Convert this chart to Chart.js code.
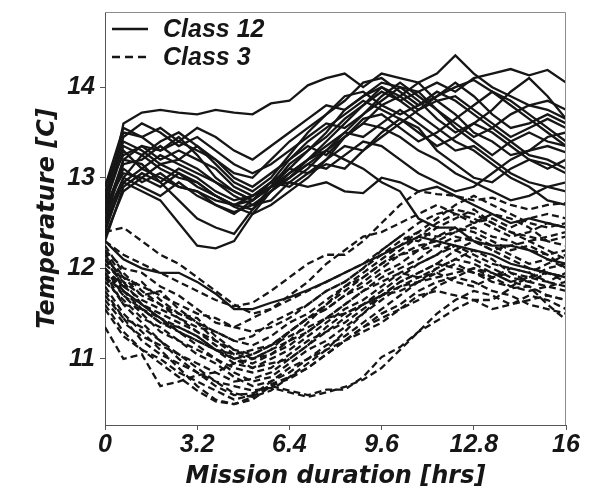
<!DOCTYPE html>
<html>
<head>
<meta charset="utf-8">
<script src="https://cdn.jsdelivr.net/npm/chart.js@4.4.1/dist/chart.umd.min.js"></script>
<style>
  html, body { margin: 0; padding: 0; background: #fff; }
  #wrap { width: 596px; height: 494px; }
</style>
</head>
<body>
<div id="wrap"><canvas id="chart" width="596" height="494"></canvas></div>
<script>
// sample times (hrs)
var hours = [0, 0.64, 1.28, 1.92, 2.56, 3.2, 3.84, 4.48, 5.12, 5.76, 6.4, 7.04, 7.68,
             8.32, 8.96, 9.6, 10.24, 10.88, 11.52, 12.16, 12.8, 13.44, 14.08, 14.72, 15.36, 16];
var xTicks = [0, 3.2, 6.4, 9.6, 12.8, 16];
var yTicks = [11, 12, 13, 14];
var legendNames = ["Class 12", "Class 3"];

// Class 12 runs (solid), temperature [C]
var class12Runs = [
  [12.6, 13.6, 13.72, 13.75, 13.72, 13.7, 13.75, 13.72, 13.7, 13.82, 13.85, 14.02, 14.1, 14.15, 14.0, 14.15, 14.1, 14.05, 14.15, 14.35, 14.15, 14.0, 13.9, 13.8, 13.85, 13.75],
  [12.8, 13.5, 13.45, 13.55, 13.4, 13.3, 13.2, 13.05, 13.0, 13.2, 13.4, 13.55, 13.7, 13.85, 14.05, 14.1, 13.95, 13.8, 13.9, 14.05, 13.9, 13.7, 13.55, 13.6, 13.7, 13.6],
  [12.5, 13.2, 13.35, 13.3, 13.45, 13.25, 13.0, 12.85, 12.75, 12.9, 13.15, 13.3, 13.5, 13.75, 13.9, 14.05, 14.0, 13.85, 13.65, 13.5, 13.6, 13.75, 13.95, 14.1, 13.9, 13.65],
  [12.9, 13.4, 13.3, 13.15, 13.2, 13.35, 13.2, 13.0, 12.9, 13.05, 13.2, 13.35, 13.25, 13.45, 13.6, 13.8, 13.9, 14.05, 13.85, 13.7, 13.5, 13.4, 13.25, 13.3, 13.45, 13.5],
  [12.4, 13.0, 13.25, 13.1, 13.0, 12.95, 12.8, 12.7, 12.65, 12.85, 13.05, 13.2, 13.35, 13.5, 13.45, 13.6, 13.75, 13.6, 13.45, 13.3, 13.35, 13.2, 13.05, 12.95, 12.9, 12.85],
  [12.7, 13.3, 13.1, 13.25, 13.15, 13.05, 12.95, 12.8, 12.7, 12.75, 12.95, 13.1, 13.3, 13.45, 13.65, 13.7, 13.55, 13.4, 13.5, 13.65, 13.8, 13.95, 13.85, 13.7, 13.55, 13.4],
  [12.6, 13.1, 12.95, 13.05, 12.9, 12.85, 12.7, 12.6, 12.75, 12.9, 13.0, 13.2, 13.4, 13.6, 13.8, 13.95, 13.85, 13.7, 13.55, 13.4, 13.3, 13.15, 13.0, 12.9, 12.75, 12.7],
  [12.85, 13.25, 13.35, 13.2, 13.3, 13.2, 13.1, 12.9, 12.8, 12.95, 13.1, 13.05, 13.2, 13.35, 13.3, 13.45, 13.6, 13.75, 13.9, 14.0, 14.08, 13.95, 13.8, 13.65, 13.5, 13.35],
  [12.3, 12.9, 13.05, 12.95, 13.1, 13.0, 12.85, 12.75, 12.8, 12.95, 12.9, 13.05, 13.15, 13.1, 13.3, 13.5, 13.65, 13.55, 13.3, 13.15, 13.0, 12.95, 13.1, 13.2, 13.15, 13.05],
  [12.75, 13.45, 13.6, 13.5, 13.35, 13.45, 13.3, 13.15, 13.05, 13.15, 13.3, 13.45, 13.6, 13.55, 13.7, 13.9, 14.05, 13.9, 13.75, 13.6, 13.45, 13.55, 13.7, 13.8, 13.75, 13.65],
  [12.55, 13.0, 12.9, 12.8, 12.95, 12.8, 12.7, 12.62, 12.7, 12.85, 13.0, 13.15, 13.1, 13.25, 13.4, 13.35, 13.2, 13.05, 12.95, 12.85, 12.9, 13.05, 13.2, 13.3, 13.35, 13.28],
  [12.65, 13.15, 13.2, 13.35, 13.2, 13.1, 12.95, 12.85, 12.75, 12.95, 13.2, 13.4, 13.55, 13.7, 13.85, 13.75, 13.65, 13.5, 13.35, 13.45, 13.6, 13.5, 13.35, 13.2, 13.1, 13.2],
  [12.45, 12.95, 13.1, 13.0, 12.9, 12.85, 12.75, 12.7, 12.8, 12.9, 12.95, 12.9, 12.95, 12.85, 12.83, 13.0, 12.95, 12.85, 12.9, 12.8, 12.7, 12.6, 12.5, 12.55, 12.5, 12.45],
  [12.5, 12.95, 12.85, 12.75, 12.5, 12.25, 12.22, 12.3, 12.6, 12.85, 13.0, 13.15, 13.3, 13.5, 13.7, 13.85, 14.0, 13.95, 13.75, 13.55, 13.4, 13.25, 13.4, 13.5, 13.4, 13.35],
  [12.6, 13.2, 13.15, 12.95, 12.75, 12.55, 12.45, 12.38, 12.65, 12.9, 13.1, 13.3, 13.45, 13.65, 13.8, 14.0, 13.9, 13.75, 13.85, 13.9, 13.75, 13.6, 13.45, 13.55, 13.65, 13.55],
  [12.8, 13.35, 13.25, 13.4, 13.5, 13.35, 13.15, 12.95, 12.85, 13.0, 13.25, 13.5, 13.7, 13.9, 13.95, 13.8, 13.7, 13.8, 13.95, 13.85, 13.7, 13.55, 13.4, 13.25, 13.2, 13.1],
  [12.7, 13.05, 13.0, 12.9, 13.05, 12.95, 12.8, 12.7, 12.75, 12.9, 13.05, 13.2, 13.3, 13.2, 13.1, 12.95, 12.85, 12.55, 12.45, 12.45, 12.3, 12.25, 12.25, 12.2, 12.1, 12.05],
  [12.35, 12.85, 13.0, 13.15, 13.05, 12.9, 12.8, 12.68, 12.6, 12.7, 12.85, 13.0, 13.2, 13.45, 13.6, 13.55, 13.45, 13.3, 13.2, 13.05, 12.95, 12.85, 12.75, 12.8, 12.9, 12.95],
  [12.9, 13.55, 13.45, 13.3, 13.4, 13.55, 13.45, 13.3, 13.2, 13.35, 13.5, 13.65, 13.8, 13.75, 13.9, 14.0, 13.85, 13.95, 14.05, 13.95, 14.1, 14.15, 14.2, 14.13, 14.19, 14.05],
  [12.3, 12.1, 12.0, 11.95, 11.95, 11.85, 11.72, 11.55, 11.55, 11.62, 11.68, 11.76, 11.85, 11.95, 12.05, 12.15, 12.25, 12.35, 12.3, 12.25, 12.2, 12.15, 12.05, 12.0, 11.95, 11.9]
];

// Class 3 runs (dashed), temperature [C]
var class3Runs = [
  [12.3, 12.15, 12.05, 11.95, 11.85, 11.75, 11.65, 11.58, 11.62, 11.75, 11.9, 12.05, 12.15, 12.15, 12.3, 12.5, 12.7, 12.85, 12.82, 12.8, 12.75, 12.78, 12.7, 12.65, 12.7, 12.72],
  [12.2, 12.0, 11.95, 11.8, 11.7, 11.55, 11.4, 11.35, 11.45, 11.55, 11.7, 11.85, 12.05, 12.2, 12.35, 12.4, 12.5, 12.6, 12.7, 12.6, 12.5, 12.55, 12.45, 12.55, 12.6, 12.55],
  [12.1, 11.9, 11.7, 11.75, 11.55, 11.4, 11.3, 11.2, 11.25, 11.4, 11.5, 11.6, 11.75, 11.85, 12.0, 12.2, 12.35, 12.3, 12.45, 12.55, 12.65, 12.5, 12.4, 12.3, 12.35, 12.4],
  [12.0, 11.8, 11.85, 11.65, 11.5, 11.45, 11.25, 11.1, 11.0, 11.1, 11.3, 11.45, 11.55, 11.7, 11.8, 11.95, 12.05, 12.2, 12.35, 12.45, 12.4, 12.3, 12.2, 12.25, 12.15, 12.2],
  [11.9, 11.6, 11.55, 11.4, 11.35, 11.25, 11.1, 10.95, 10.9, 11.0, 11.1, 11.25, 11.4, 11.55, 11.65, 11.8, 11.95, 12.05, 12.15, 12.3, 12.35, 12.25, 12.15, 12.05, 12.1, 12.0],
  [11.8, 11.5, 11.3, 11.1, 10.9, 10.7, 10.55, 10.5, 10.55, 10.7, 10.78, 10.9, 11.05, 11.2, 11.35, 11.5, 11.6, 11.75, 11.85, 11.9, 12.0, 11.95, 11.85, 11.9, 11.95, 11.9],
  [11.95, 11.6, 11.4, 11.2, 11.0, 10.85, 10.7, 10.6, 10.62, 10.7, 10.65, 10.6, 10.66, 10.66, 10.8, 11.02, 11.13, 11.3, 11.42, 11.55, 11.65, 11.65, 11.78, 11.8, 11.6, 11.43],
  [11.35, 11.0, 11.05, 10.7, 10.75, 10.82, 10.85, 10.95, 11.0, 11.1, 11.2, 11.3, 11.45, 11.6, 11.75, 11.85, 11.95, 11.9, 12.0, 12.1, 12.05, 11.95, 11.85, 11.8, 11.7, 11.65],
  [12.15, 11.85, 11.6, 11.45, 11.3, 11.15, 11.0, 10.85, 10.75, 10.8, 10.95, 11.1, 11.2, 11.35, 11.5, 11.7, 11.85, 11.95, 12.05, 12.2, 12.3, 12.2, 12.1, 12.0, 11.95, 11.85],
  [11.7, 11.45, 11.35, 11.2, 11.05, 10.9, 10.75, 10.62, 10.58, 10.65, 10.8, 10.95, 11.1, 11.3, 11.5, 11.65, 11.8, 11.9, 11.95, 11.85, 11.8, 11.9, 12.0, 11.95, 11.85, 11.8],
  [12.25, 11.95, 11.75, 11.6, 11.5, 11.4, 11.2, 11.05, 11.0, 11.05, 11.2, 11.4, 11.6, 11.8, 11.9, 12.05, 12.2, 12.35, 12.5, 12.6, 12.55, 12.45, 12.35, 12.4, 12.5, 12.45],
  [11.85, 11.65, 11.45, 11.35, 11.2, 11.05, 10.95, 10.8, 10.7, 10.75, 10.85, 11.0, 11.15, 11.25, 11.4, 11.55, 11.7, 11.85, 12.0, 12.1, 12.2, 12.1, 11.95, 11.85, 11.8, 11.75],
  [12.0, 11.75, 11.6, 11.5, 11.4, 11.3, 11.15, 11.0, 10.95, 11.05, 11.15, 11.3, 11.45, 11.6, 11.75, 11.9, 12.0, 12.1, 12.25, 12.35, 12.3, 12.2, 12.25, 12.3, 12.2, 12.1],
  [11.6, 11.3, 11.1, 10.95, 10.8, 10.65, 10.53, 10.5, 10.58, 10.72, 10.8, 10.9, 11.05, 11.2, 11.35, 11.45, 11.55, 11.65, 11.8, 11.9, 11.85, 11.75, 11.7, 11.6, 11.55, 11.5],
  [11.75, 11.45, 11.2, 11.05, 10.95, 10.85, 10.75, 10.7, 10.65, 10.68, 10.63, 10.58, 10.63, 10.69, 10.77, 10.9, 11.1, 11.3, 11.5, 11.65, 11.75, 11.7, 11.6, 11.65, 11.7, 11.65],
  [12.1, 11.8, 11.65, 11.55, 11.45, 11.35, 11.3, 11.2, 11.15, 11.25, 11.4, 11.5, 11.65, 11.8, 11.95, 12.1, 12.25, 12.4, 12.55, 12.7, 12.8, 12.7, 12.6, 12.5, 12.45, 12.5],
  [11.95, 11.7, 11.5, 11.3, 11.2, 11.1, 11.0, 10.9, 10.85, 10.9, 11.05, 11.2, 11.3, 11.4, 11.55, 11.7, 11.75, 11.85, 11.95, 12.05, 11.95, 11.85, 11.8, 11.9, 12.0, 12.05],
  [12.2, 11.9, 11.8, 11.7, 11.6, 11.5, 11.45, 11.35, 11.3, 11.35, 11.45, 11.6, 11.75, 11.85, 12.0, 12.15, 12.3, 12.4, 12.35, 12.4, 12.5, 12.6, 12.55, 12.45, 12.3, 12.25],
  [11.55, 11.25, 11.1, 11.0, 10.85, 10.75, 10.65, 10.55, 10.6, 10.75, 10.9, 11.0, 11.1, 11.2, 11.3, 11.4, 11.55, 11.7, 11.75, 11.7, 11.65, 11.55, 11.6, 11.7, 11.65, 11.55],
  [12.0, 11.7, 11.55, 11.45, 11.3, 11.2, 11.1, 11.0, 10.9, 10.95, 11.0, 11.15, 11.35, 11.5, 11.6, 11.75, 11.9, 12.05, 12.15, 12.25, 12.15, 12.05, 12.0, 11.95, 12.05, 12.15],
  [11.9, 11.75, 11.6, 11.45, 11.35, 11.25, 11.1, 11.0, 11.05, 11.15, 11.3, 11.45, 11.55, 11.7, 11.85, 12.0, 12.15, 12.2, 12.25, 12.2, 12.1, 12.0, 11.9, 11.85, 11.95, 11.9],
  [12.4, 12.45, 12.3, 12.15, 12.05, 11.9, 11.75, 11.6, 11.5, 11.55, 11.65, 11.75, 11.85, 11.95, 12.05, 12.2, 12.35, 12.5, 12.6, 12.65, 12.6, 12.5, 12.4, 12.35, 12.3, 12.35],
  [11.65, 11.4, 11.25, 11.15, 11.05, 10.95, 10.85, 10.75, 10.78, 10.85, 11.0, 11.15, 11.3, 11.45, 11.6, 11.7, 11.8, 11.85, 11.9, 11.95, 12.0, 11.9, 11.8, 11.75, 11.8, 11.85],
  [12.05, 11.85, 11.7, 11.6, 11.45, 11.3, 11.2, 11.1, 11.05, 11.15, 11.3, 11.45, 11.6, 11.75, 11.9, 12.05, 12.15, 12.25, 12.3, 12.4, 12.45, 12.35, 12.3, 12.2, 12.15, 12.0],
  [12.2, 11.75, 11.55, 11.4, 11.3, 11.2, 11.1, 11.05, 11.1, 11.15, 11.25, 11.35, 11.45, 11.5, 11.6, 11.7, 11.85, 11.95, 12.05, 12.0, 11.95, 11.9, 11.95, 11.9, 11.85, 11.95]
];

var ink = "#161616";
var axisGrey = "#555";
var solidDash = [];
var dashedDash = [7, 4];
var tickFont = { family: '"Liberation Sans", Arial, sans-serif', size: 25, style: "italic", weight: "bold", lineHeight: 1.2 };
var titleFont = { family: '"DejaVu Sans", Verdana, sans-serif', size: 24, style: "italic", weight: "bold", lineHeight: 1.2 };

function toPoints(run) {
    return run.map(function(v, i) { return { x: hours[i], y: v }; });
}

var datasets = [];
class12Runs.forEach(function(run) {
    datasets.push({ label: legendNames[0], data: toPoints(run), borderColor: ink, borderWidth: 2.3,
        borderDash: solidDash, pointRadius: 0, fill: false, tension: 0 });
});
class3Runs.forEach(function(run) {
    datasets.push({ label: legendNames[1], data: toPoints(run), borderColor: ink, borderWidth: 2.3,
        borderDash: dashedDash, pointRadius: 0, fill: false, tension: 0 });
});

// top and right frame lines
var framePlugin = {
    id: "frame",
    afterDraw: function(chart) {
        var a = chart.chartArea, ctx = chart.ctx;
        ctx.save();
        ctx.strokeStyle = "#8c8c8c";
        ctx.lineWidth = 1;
        ctx.beginPath();
        ctx.moveTo(a.left, a.top + 0.5);
        ctx.lineTo(a.right - 0.5, a.top + 0.5);
        ctx.lineTo(a.right - 0.5, a.bottom);
        ctx.stroke();
        ctx.restore();
    }
};

// legend inside the plot, top-left (Chart.js point-style legend drops the dash)
var insideLegend = {
    id: "insideLegend",
    afterDraw: function(chart) {
        var a = chart.chartArea, ctx = chart.ctx;
        var dashes = [solidDash, [8, 5]];
        ctx.save();
        ctx.font = "italic bold 25px 'Liberation Sans', Arial, sans-serif";
        ctx.fillStyle = ink;
        ctx.strokeStyle = ink;
        ctx.lineWidth = 2.3;
        ctx.textBaseline = "middle";
        legendNames.forEach(function(name, i) {
            var y = a.top + 17 + i * 28;
            ctx.setLineDash(dashes[i]);
            ctx.beginPath();
            ctx.moveTo(a.left + 7, y);
            ctx.lineTo(a.left + 43, y);
            ctx.stroke();
            ctx.fillText(name, a.left + 58, y + 1);
        });
        ctx.restore();
    }
};

new Chart(document.getElementById("chart"), {
    type: "line",
    data: { datasets: datasets },
    plugins: [framePlugin, insideLegend],
    options: {
        responsive: false,
        animation: false,
        devicePixelRatio: 1,
        layout: { padding: { left: 0, top: 12, right: 30, bottom: 0 } },
        plugins: {
            tooltip: { enabled: false },
            legend: { display: false }
        },
        scales: {
            x: {
                type: "linear",
                min: 0,
                max: 16,
                afterBuildTicks: function(s) { s.ticks = xTicks.map(function(v) { return { value: v }; }); },
                afterFit: function(s) { s.height = 69; s.paddingLeft = 0; s.paddingRight = 0; },
                grid: { display: true, drawOnChartArea: false, drawTicks: true, tickLength: 5, color: axisGrey },
                border: { display: true, color: axisGrey, width: 1 },
                ticks: { padding: 0, color: ink, font: tickFont, maxRotation: 0, autoSkip: false,
                    callback: function(v) { return String(v); } },
                title: { display: true, text: "Mission duration [hrs]", color: ink, font: titleFont,
                    padding: { top: 0, bottom: 3 } }
            },
            y: {
                type: "linear",
                min: 10.27,
                max: 14.83,
                afterBuildTicks: function(s) { s.ticks = yTicks.map(function(v) { return { value: v }; }); },
                afterFit: function(s) { s.width = 105; s.paddingTop = 0; s.paddingBottom = 0; },
                grid: { display: true, drawOnChartArea: false, drawTicks: true, tickLength: 5, color: axisGrey },
                border: { display: true, color: axisGrey, width: 1 },
                ticks: { padding: 5, color: ink, font: tickFont, autoSkip: false,
                    callback: function(v) { return String(v); } },
                title: { display: true, text: "Temperature [C]", color: ink, font: titleFont,
                    padding: { top: 33, bottom: 0 } }
            }
        }
    }
});
</script>
</body>
</html>
